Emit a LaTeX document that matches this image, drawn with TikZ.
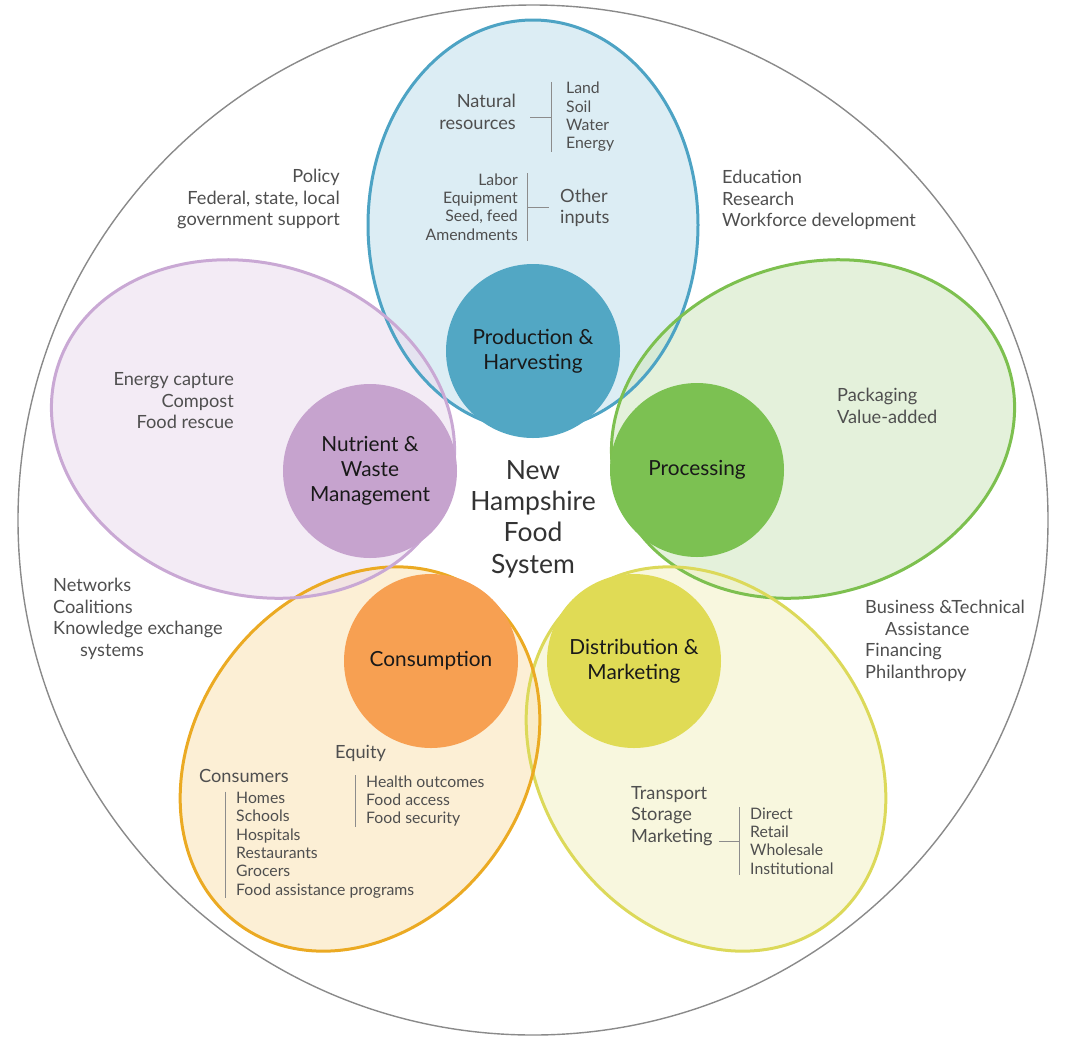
\documentclass[tikz,border=0pt]{standalone}
\usepackage{fontspec}
\setmainfont{Lato}
\usetikzlibrary{positioning}

\definecolor{ringgray}{HTML}{8A8A8A}
\definecolor{notegray}{HTML}{4F4F4F}
\definecolor{linegray}{HTML}{8C8C8C}
\definecolor{prodline}{HTML}{4DA3C4}
\definecolor{prodfill}{HTML}{C5E1ED}
\definecolor{prodhub}{HTML}{52A7C4}
\definecolor{procline}{HTML}{7DC04F}
\definecolor{procfill}{HTML}{D2E8C3}
\definecolor{prochub}{HTML}{7CC152}
\definecolor{distline}{HTML}{DCD95A}
\definecolor{distfill}{HTML}{F3F2C8}
\definecolor{disthub}{HTML}{E0DB55}
\definecolor{consline}{HTML}{EBAA23}
\definecolor{consfill}{HTML}{FAE4B9}
\definecolor{conshub}{HTML}{F7A052}
\definecolor{wasteline}{HTML}{C9A8D4}
\definecolor{wastefill}{HTML}{EBDEEE}
\definecolor{wastehub}{HTML}{C6A3CE}

\tikzset{
  note/.style={inner sep=0pt, text=notegray, font=\fontsize{18.2}{21.5}\selectfont},
  small/.style={note, font=\fontsize{15.8}{18.4}\selectfont},
  hub/.style={circle, minimum size=174pt, inner sep=0pt, align=center, text=black!90, font=\fontsize{20.8}{25}\selectfont},
  petal/.style={fill opacity=0.6},
  rim/.style={line width=3pt},
  bracket/.style={line width=0.8pt, draw=linegray},
}

\begin{document}
\begin{tikzpicture}[x=1pt, y=-1pt]
\useasboundingbox (0,0) rectangle (1065,1058);

% outer ring
\node[circle, draw=ringgray, line width=1.4pt, minimum size=1030pt, inner sep=0pt] (ring) at (533,520) {};

% petal centres
\coordinate (prodC) at (533,225);
\coordinate (procC) at (813,429);
\coordinate (distC) at (706,759);
\coordinate (consC) at (360,759);
\coordinate (wasteC) at (253,429);

% petal fills
\fill[prodfill, petal, rotate around={90:(prodC)}] (prodC) ellipse [x radius=205, y radius=165];
\fill[procfill, petal, rotate around={18:(procC)}] (procC) ellipse [x radius=205, y radius=165];
\fill[distfill, petal, rotate around={-54:(distC)}] (distC) ellipse [x radius=205, y radius=165];
\fill[consfill, petal, rotate around={54:(consC)}] (consC) ellipse [x radius=205, y radius=165];
\fill[wastefill, petal, rotate around={-18:(wasteC)}] (wasteC) ellipse [x radius=205, y radius=165];

% petal outlines
\draw[prodline, rim, rotate around={90:(prodC)}] (prodC) ellipse [x radius=205, y radius=165];
\draw[procline, rim, rotate around={18:(procC)}] (procC) ellipse [x radius=205, y radius=165];
\draw[distline, rim, rotate around={-54:(distC)}] (distC) ellipse [x radius=205, y radius=165];
\draw[consline, rim, rotate around={54:(consC)}] (consC) ellipse [x radius=205, y radius=165];
\draw[wasteline, rim, rotate around={-18:(wasteC)}] (wasteC) ellipse [x radius=205, y radius=165];

% hubs
\node[hub, fill=prodhub] (prod) at (533,351) {Production \&\\Harvesting};
\node[hub, fill=prochub] (proc) at (697,470) {Processing};
\node[hub, fill=disthub] (dist) at (634,661) {Distribution \&\\Marketing};
\node[hub, fill=conshub] (cons) at (431,661) {Consumption};
\node[hub, fill=wastehub] (waste) at (370,471) {Nutrient \&\\Waste\\Management};

\node[inner sep=0pt, align=center, text=black!80, font=\fontsize{26.5}{31.3}\selectfont] (nhfs) at (533,519) {New\\Hampshire\\Food\\System};

% production petal
\node[note, align=right, anchor=east] (natres) at (516,112) {Natural\\resources};
\node[small, align=left, anchor=west] (landlist) at (566,117) {Land\\Soil\\Water\\Energy};
\draw[bracket] ([xshift=-15pt]landlist.north west) -- ([xshift=-15pt]landlist.south west);
\draw[bracket] ([xshift=-15pt]landlist.west) -- ++(-21pt,0);
\node[small, align=right, anchor=east] (inlist) at (518,207) {Labor\\Equipment\\Seed, feed\\Amendments};
\node[note, align=left, anchor=west] (otherin) at (560,208) {Other\\inputs};
\draw[bracket] ([xshift=9pt]inlist.north east) -- ([xshift=9pt]inlist.south east);
\draw[bracket] ([xshift=9pt]inlist.east) -- ++(22pt,0);

% processing petal
\node[note, align=left, anchor=west] (pack) at (837,406) {Packaging\\Value-added};

% waste petal
\node[note, align=right, anchor=east] (energy) at (234,401) {Energy capture\\Compost\\Food rescue};

% distribution petal
\node[note, align=left, anchor=west] (transport) at (631,816) {Transport\\Storage\\Marketing};
\node[small, align=left, anchor=west] (chanlist) at (750,841) {Direct\\Retail\\Wholesale\\Institutional};
\draw[bracket] ([xshift=-11pt]chanlist.north west) -- ([xshift=-11pt]chanlist.south west);
\draw[bracket] ([xshift=-11pt]chanlist.west) -- ++(-20pt,0);

% consumption petal
\node[note, anchor=west] (equity) at (335,753) {Equity};
\node[small, align=left, anchor=west] (eqlist) at (366,801) {Health outcomes\\Food access\\Food security};
\draw[bracket] ([xshift=-11pt]eqlist.north west) -- ([xshift=-11pt]eqlist.south west);
\node[note, anchor=west] (consumers) at (199,776) {Consumers};
\node[small, align=left, anchor=west] (conslist) at (236,845) {Homes\\Schools\\Hospitals\\Restaurants\\Grocers\\Food assistance programs};
\draw[bracket] ([xshift=-11pt]conslist.north west) -- ([xshift=-11pt]conslist.south west);

% supports around the ring
\node[note, align=right, anchor=east] (policy) at (340,199) {Policy\\Federal, state, local\\government support};
\node[note, align=left, anchor=west] (educ) at (722,200) {Education\\Research\\Workforce development};
\node[note, align=left, anchor=west] (networks) at (53,619) {Networks\\Coalitions\\Knowledge exchange\\\hspace*{27pt}systems};
\node[note, align=left, anchor=west] (business) at (865,641) {Business \&Technical\\\hspace*{20pt}Assistance\\Financing\\Philanthropy};
\end{tikzpicture}
\end{document}
